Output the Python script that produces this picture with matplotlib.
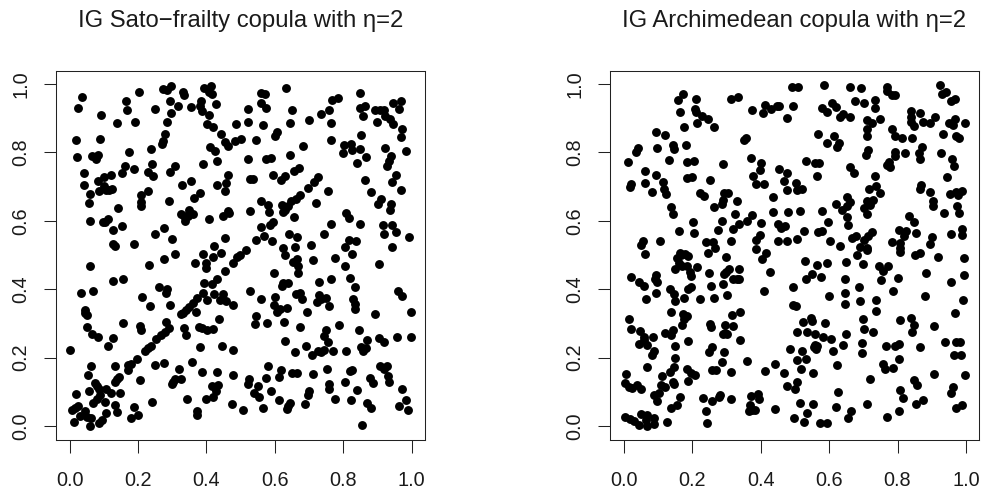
import matplotlib
matplotlib.use("Agg")
import matplotlib.pyplot as plt

plt.rcParams['font.family'] = ['Liberation Sans', 'DejaVu Sans']

sato_points = [
(.035,.962),(.024,.930),(.092,.909),(.164,.951),(.168,.923),(.202,.978),(.138,.887),(.191,.888),(.251,.926),(.274,.985),
(.284,.981),(.298,.995),(.333,.976),(.334,.969),(.294,.949),(.318,.935),(.297,.916),(.286,.888),(.354,.933),(.393,.989),
(.414,.995),(.409,.977),(.416,.972),(.385,.951),(.381,.935),(.387,.920),(.428,.942),(.408,.910),(.402,.882),(.419,.873),
(.279,.854),(.274,.833),(.271,.826),(.442,.854),(.455,.831),(.462,.818),(.019,.835),(.089,.840),(.021,.787),(.065,.788),
(.082,.791),(.076,.782),(.173,.801),(.237,.811),(.412,.817),(.425,.805),(.432,.776),(.390,.767),(.240,.767),(.161,.759),
(.187,.750),(.152,.741),(.228,.744),(.245,.732),(.307,.761),(.293,.742),(.042,.740),(.102,.729),(.120,.733),(.462,.735),
(.043,.705),(.082,.715),(.102,.701),(.087,.686),(.106,.691),(.125,.693),(.116,.690),(.330,.706),(.356,.717),(.430,.704),
(.456,.710),(.454,.688),(.061,.677),(.229,.686),(.210,.675),(.058,.651),(.143,.637),(.210,.654),(.210,.644),(.292,.658),
(.381,.682),(.365,.668),(.059,.600),(.099,.596),(.112,.604),(.105,.597),(.153,.585),(.127,.573),(.348,.633),(.325,.620),
(.335,.613),(.346,.615),(.362,.620),(.338,.598),(.409,.606),(.463,.629),(.449,.613),(.466,.622),(.276,.580),(.249,.562),
(.299,.548),(.453,.550),(.126,.531),(.133,.526),(.187,.532),(.421,.526),
(.060,.469),(.231,.472),(.275,.489),(.308,.502),(.391,.504),(.418,.495),(.442,.505),(.368,.477),(.400,.478),(.400,.463),
(.455,.454),(.432,.430),(.128,.425),(.155,.429),(.393,.417),(.417,.415),(.262,.406),(.284,.400),(.283,.390),(.033,.390),
(.069,.394),(.211,.378),(.236,.350),(.294,.354),(.389,.388),(.374,.373),(.403,.367),(.423,.386),(.450,.385),(.439,.369),
(.456,.365),(.360,.359),(.350,.349),(.341,.339),(.333,.331),(.327,.326),(.371,.332),(.045,.338),(.045,.330),(.050,.324),
(.155,.300),(.281,.304),(.436,.312),(.052,.290),(.067,.268),(.083,.260),(.128,.256),(.113,.233),(.207,.291),(.209,.282),
(.290,.286),(.279,.276),(.268,.267),(.254,.253),(.334,.287),(.340,.265),(.378,.290),(.386,.286),(.402,.282),(.420,.285),
(.380,.232),(.447,.234),(.237,.235),(.228,.227),(.222,.220),(.002,.221),(.198,.196),(.180,.181),(.171,.177),(.171,.164),
(.064,.176),(.133,.176),(.249,.178),(.275,.183),(.359,.186),(.321,.166),(.386,.158),(.430,.158),(.054,.150),(.146,.143),
(.139,.137),(.132,.129),(.206,.134),(.327,.137),(.309,.137),(.301,.130),(.299,.122),(.073,.125),(.080,.117),(.087,.109),
(.058,.102),(.108,.107),(.121,.097),(.148,.096),(.018,.093),(.090,.090),(.080,.079),(.069,.067),(.103,.069),(.240,.070),
(.344,.078),(.400,.078),(.419,.085),(.429,.101),(.434,.120),(.417,.117),(.425,.113),(.133,.060),(.140,.040),(.189,.056),
(.199,.033),(.180,.022),(.026,.059),(.017,.053),(.006,.046),(.046,.045),(.031,.030),(.052,.027),(.063,.024),(.108,.038),
(.096,.017),(.086,.009),(.012,.011),(.059,.001),(.372,.045),(.372,.033),
(.633,.987),(.561,.975),(.570,.971),(.560,.943),(.574,.930),(.523,.926),(.649,.923),(.488,.884),(.523,.890),(.566,.881),
(.645,.886),(.700,.896),(.736,.912),(.759,.924),(.767,.952),(.784,.960),(.764,.885),(.849,.975),(.849,.930),(.863,.936),
(.858,.906),(.892,.925),(.908,.925),(.918,.923),(.945,.943),(.968,.950),(.963,.926),(.900,.890),(.922,.906),(.937,.898),
(.945,.884),(.973,.868),(.969,.845),(.852,.852),(.606,.859),(.601,.849),(.501,.839),(.484,.833),(.545,.836),(.764,.836),
(.683,.818),(.644,.791),(.523,.782),(.574,.782),(.589,.785),(.801,.822),(.822,.824),(.799,.799),(.827,.806),(.850,.809),
(.868,.786),(.841,.769),(.923,.814),(.983,.805),(.940,.788),(.934,.776),(.928,.761),(.954,.735),(.944,.714),(.968,.690),
(.865,.718),(.881,.683),(.909,.665),(.902,.648),(.940,.649),(.936,.632),(.671,.754),(.657,.746),(.595,.733),(.630,.730),
(.618,.720),(.527,.723),(.535,.723),(.727,.728),(.714,.714),(.696,.697),(.755,.687),(.673,.675),(.661,.664),(.647,.657),
(.620,.646),(.640,.642),(.631,.633),(.625,.625),(.720,.653),(.561,.658),(.580,.647),(.584,.627),(.527,.630),(.657,.612),
(.807,.622),(.817,.609),(.765,.591),(.849,.591),(.915,.589),(.942,.588),(.954,.568),(.919,.560),(.991,.552),(.596,.597),
(.587,.587),(.560,.583),(.568,.556),(.545,.545),(.593,.542),(.642,.562),(.665,.552),(.745,.562),(.816,.545),(.838,.541),
(.804,.523),(.705,.529),(.658,.522),(.625,.520),(.944,.523),
(.498,.500),(.489,.494),(.478,.478),(.516,.514),(.631,.500),(.665,.488),(.654,.479),(.669,.469),(.667,.447),(.713,.486),
(.775,.490),(.827,.504),(.804,.469),(.905,.474),(.597,.446),(.623,.417),(.622,.410),(.640,.419),(.730,.422),(.765,.430),
(.819,.434),(.835,.405),(.527,.395),(.601,.377),(.559,.370),(.661,.386),(.673,.389),(.679,.371),(.729,.384),(.724,.362),
(.734,.371),(.751,.374),(.759,.350),(.828,.372),(.835,.358),(.835,.342),(.961,.396),(.972,.380),(.477,.355),(.597,.354),
(.605,.332),(.615,.341),(.635,.344),(.694,.332),(.892,.327),(.998,.333),(.545,.323),(.541,.297),(.576,.302),(.628,.303),
(.675,.290),(.787,.294),(.750,.281),(.745,.262),(.755,.245),(.845,.281),(.630,.248),(.692,.234),(.659,.216),(.708,.207),
(.727,.220),(.734,.216),(.744,.223),(.770,.218),(.809,.220),(.869,.251),(.852,.231),(.868,.228),(.859,.218),(.905,.256),
(.919,.245),(.957,.259),(.998,.259),(.479,.222),(.579,.176),(.618,.163),(.613,.143),(.649,.154),(.664,.154),(.712,.153),
(.753,.167),(.820,.161),(.827,.164),(.908,.176),(.928,.174),(.918,.166),(.930,.146),(.934,.130),(.877,.140),(.887,.125),
(.479,.149),(.526,.137),(.522,.122),(.574,.139),(.550,.117),(.539,.096),(.555,.085),(.589,.101),(.757,.122),(.757,.107),
(.805,.128),(.841,.105),(.973,.107),(.984,.077),(.964,.057),(.990,.047),(.701,.102),(.697,.092),(.611,.076),(.775,.079),
(.824,.076),(.870,.067),(.881,.052),(.688,.065),(.643,.068),(.640,.058),(.637,.050),(.566,.053),(.506,.047),(.474,.063),
(.854,.002),
]

archimedean_points = [
(.172,.972),(.160,.952),(.210,.955),(.314,.955),(.334,.961),(.164,.917),(.208,.926),(.212,.917),(.230,.906),(.246,.898),
(.215,.886),(.176,.874),(.263,.874),(.375,.923),(.406,.915),(.413,.939),(.431,.926),(.447,.937),(.455,.936),(.478,.900),
(.095,.861),(.122,.850),(.358,.841),(.350,.835),(.043,.813),(.037,.801),(.098,.812),(.144,.823),(.146,.810),(.182,.821),
(.012,.771),(.132,.778),(.185,.771),(.205,.776),(.290,.766),(.372,.784),(.401,.768),(.398,.749),(.454,.751),(.476,.740),
(.061,.746),(.095,.734),(.377,.731),(.185,.725),(.200,.729),(.020,.709),(.017,.698),(.063,.710),(.116,.712),(.118,.694),
(.124,.679),(.084,.684),(.252,.719),(.386,.708),(.409,.707),(.467,.715),(.477,.690),(.222,.682),(.235,.673),(.293,.682),
(.304,.681),(.291,.661),(.288,.650),(.330,.658),(.435,.669),(.265,.639),(.137,.640),(.143,.620),(.324,.621),(.435,.627),
(.479,.625),(.374,.616),(.361,.600),(.288,.600),(.400,.594),(.203,.595),(.451,.590),(.461,.578),(.471,.584),(.337,.590),
(.318,.577),(.276,.572),(.161,.569),(.204,.563),(.398,.559),(.386,.545),(.057,.540),(.050,.528),(.107,.541),(.239,.537),
(.261,.537),(.266,.519),(.312,.540),(.450,.540),(.478,.541),(.386,.517),
(.061,.502),(.163,.507),(.180,.502),(.156,.490),(.166,.500),(.161,.478),(.187,.497),(.247,.505),(.299,.494),(.415,.506),
(.403,.488),(.149,.458),(.170,.468),(.185,.469),(.215,.465),(.193,.451),(.196,.439),(.249,.447),(.307,.458),(.300,.451),
(.294,.443),(.337,.458),(.428,.449),(.020,.435),(.093,.442),(.090,.430),(.097,.420),(.046,.421),(.058,.408),(.320,.431),
(.330,.429),(.337,.429),(.256,.410),(.290,.415),(.134,.401),(.148,.385),(.094,.389),(.065,.372),(.151,.364),(.175,.375),
(.187,.400),(.198,.406),(.224,.372),(.264,.374),(.301,.382),(.410,.395),(.138,.332),(.172,.328),(.185,.323),(.177,.313),
(.171,.294),(.014,.313),(.020,.285),(.048,.278),(.060,.259),(.086,.259),(.059,.250),(.045,.239),(.067,.236),(.122,.271),
(.139,.267),(.145,.281),(.189,.249),(.150,.234),(.253,.299),(.256,.289),(.296,.294),(.318,.293),(.295,.271),(.289,.268),
(.302,.268),(.317,.325),(.339,.333),(.340,.250),(.257,.231),(.248,.215),(.293,.216),(.087,.218),(.082,.207),(.150,.199),
(.288,.188),(.361,.191),(.067,.172),(.147,.172),(.134,.158),(.113,.146),(.186,.166),(.197,.154),(.208,.148),(.189,.131),
(.258,.163),(.270,.163),(.313,.157),(.412,.161),(.441,.180),(.469,.156),(.486,.226),(.476,.118),(.007,.152),(.003,.125),
(.015,.115),(.025,.112),(.039,.121),(.049,.108),(.108,.119),(.122,.115),(.144,.130),(.146,.122),(.103,.097),(.088,.092),
(.096,.074),(.165,.086),(.231,.081),(.259,.072),(.282,.092),(.279,.086),(.312,.078),(.371,.087),(.393,.094),(.396,.080),
(.155,.060),(.138,.054),(.240,.045),(.368,.061),(.366,.045),(.385,.046),(.376,.047),(.441,.049),(.003,.025),(.018,.020),
(.029,.014),(.046,.004),(.051,.035),(.068,.032),(.066,.018),(.068,.000),(.088,.024),(.088,.007),(.127,.012),(.242,.009),
(.491,.991),(.508,.990),(.584,.998),(.660,.992),(.693,.987),(.770,.992),(.770,.979),(.784,.969),(.793,.967),(.923,.997),
(.941,.977),(.931,.971),(.956,.951),(.968,.956),(.494,.935),(.579,.931),(.594,.918),(.608,.944),(.621,.932),(.675,.949),
(.703,.943),(.733,.952),(.735,.929),(.633,.904),(.642,.913),(.660,.904),(.711,.895),(.725,.885),(.749,.898),(.840,.922),
(.865,.914),(.839,.904),(.839,.890),(.849,.878),(.875,.888),(.894,.886),(.911,.904),(.969,.897),(.950,.886),(.961,.879),
(.997,.887),(.932,.855),(.972,.849),(.981,.841),(.568,.855),(.613,.847),(.594,.828),(.629,.828),(.622,.815),(.711,.869),
(.711,.847),(.783,.868),(.793,.848),(.813,.841),(.843,.842),(.871,.815),(.864,.799),(.866,.782),(.713,.808),(.708,.792),
(.793,.800),(.792,.788),(.821,.797),(.928,.797),(.960,.781),(.964,.761),(.532,.775),(.559,.769),(.570,.770),(.775,.771),
(.770,.764),(.778,.757),(.660,.757),(.672,.741),(.735,.732),(.565,.730),(.946,.729),(.504,.711),(.506,.689),(.521,.692),
(.737,.701),(.716,.693),(.749,.680),(.869,.706),(.866,.692),(.895,.685),(.952,.677),(.971,.684),(.988,.688),(.977,.674),
(.653,.669),(.660,.656),(.621,.649),(.638,.632),(.652,.643),(.904,.659),(.905,.643),(.975,.643),(.979,.624),(.937,.623),
(.728,.662),(.711,.657),(.721,.646),(.703,.638),(.711,.620),(.516,.628),(.580,.628),(.653,.612),(.597,.596),(.654,.588),
(.834,.613),(.849,.596),(.528,.570),(.569,.566),(.579,.569),(.506,.547),(.604,.542),(.633,.527),(.679,.555),(.668,.550),
(.725,.568),(.713,.555),(.703,.545),(.691,.522),(.712,.520),(.803,.572),(.825,.570),(.818,.555),(.853,.565),(.783,.538),
(.806,.535),(.902,.554),(.895,.531),(.957,.562),(.988,.577),(.988,.557),(.808,.521),
(.682,.499),(.711,.515),(.808,.509),(.852,.499),(.867,.507),(.919,.493),(.994,.491),(.530,.482),(.566,.472),(.593,.477),
(.649,.480),(.698,.475),(.747,.468),(.772,.468),(.759,.452),(.883,.447),(.994,.442),(.549,.444),(.533,.430),(.576,.435),
(.648,.429),(.752,.427),(.801,.432),(.956,.422),(.496,.405),(.687,.406),(.788,.396),(.647,.388),(.600,.379),(.881,.380),
(.991,.369),(.494,.354),(.502,.350),(.646,.358),(.691,.364),(.736,.367),(.737,.337),(.968,.331),(.547,.317),(.550,.307),
(.523,.303),(.587,.300),(.699,.312),(.806,.309),(.838,.315),(.849,.295),(.843,.276),(.906,.291),(.703,.283),(.729,.276),
(.506,.274),(.535,.275),(.558,.268),(.581,.260),(.606,.255),(.650,.270),(.695,.242),(.641,.237),(.767,.235),(.794,.235),
(.803,.239),(.867,.231),(.939,.247),(.971,.247),(.984,.247),(.560,.237),(.565,.235),(.557,.230),(.563,.225),(.522,.218),
(.611,.220),(.696,.212),(.966,.208),(.986,.208),(.507,.192),(.533,.196),(.804,.195),(.757,.182),(.763,.168),(.786,.169),
(.624,.178),(.517,.168),(.554,.154),(.906,.151),(.996,.148),(.719,.136),(.849,.135),(.856,.120),(.506,.129),(.501,.107),
(.808,.106),(.962,.113),(.957,.096),(.626,.098),(.817,.081),(.514,.067),(.553,.065),(.619,.056),(.712,.065),(.853,.063),
(.874,.075),(.663,.043),(.655,.024),(.805,.044),(.770,.025),(.971,.053),(.989,.061),(.535,.037),(.498,.022),(.528,.011),
(.574,.008),(.594,.010),
]

titles = ["IG Sato\u2212frailty copula with \u03b7=2", "IG Archimedean copula with \u03b7=2"]
ticks = [0.0, 0.2, 0.4, 0.6, 0.8, 1.0]
tick_labels = ["0.0", "0.2", "0.4", "0.6", "0.8", "1.0"]

W, H = 984, 491
fig = plt.figure(figsize=(W / 100, H / 100), dpi=100)
boxes = [(55.5, 425.0), (609.7, 979.3)]
top, bottom = 71.0, 440.0

for (l, r), pts, title in zip(boxes, [sato_points, archimedean_points], titles):
    ax = fig.add_axes([l / W, 1 - bottom / H, (r - l) / W, (bottom - top) / H])
    ax.scatter([p[0] for p in pts], [p[1] for p in pts], s=41, c='black', linewidths=0, clip_on=False)
    ax.set_xlim(-0.041, 1.039)
    ax.set_ylim(-0.041, 1.038)
    ax.set_xticks(ticks)
    ax.set_xticklabels(tick_labels)
    ax.set_yticks(ticks)
    ax.set_yticklabels(tick_labels, rotation=90, va='center')
    ax.tick_params(axis='x', length=9, width=0.75, pad=13, labelsize=14.33, color='#222222', labelcolor='#1a1a1a')
    ax.tick_params(axis='y', length=9, width=0.75, pad=9, labelsize=14.33, color='#222222', labelcolor='#1a1a1a')
    for s in ax.spines.values():
        s.set_linewidth(0.75)
        s.set_color('#222222')
    ax.text((l + r) / 2 / W, 1 - 26.7 / H, title, transform=fig.transFigure, ha='center', va='baseline',
            fontsize=17.2, color='#1a1a1a')

fig.savefig('out.png', dpi=100)
